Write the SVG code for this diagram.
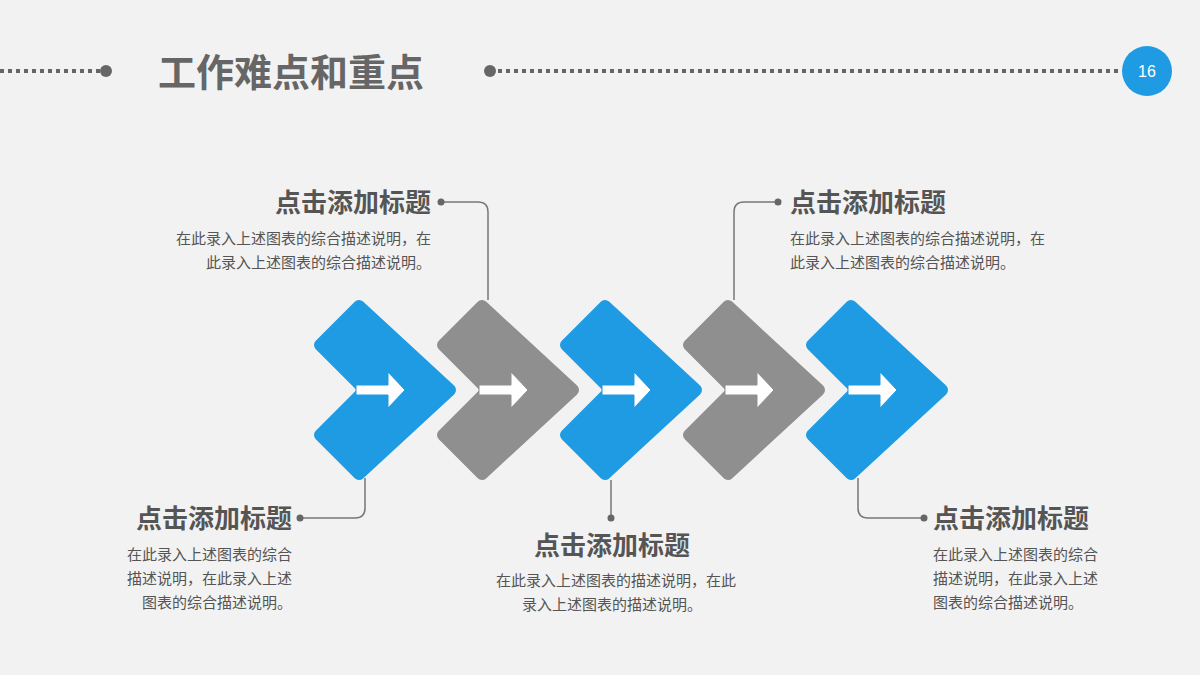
<svg xmlns="http://www.w3.org/2000/svg" width="1200" height="675" viewBox="0 0 1200 675">
<defs>
<style>
.t{font-family:"Noto Sans CJK SC","Liberation Sans",sans-serif;fill:#555;font-weight:bold;font-size:26px}
.d{font-family:"Noto Sans CJK SC","Liberation Sans",sans-serif;fill:#555;font-size:15px}
.dot{stroke:#666;stroke-width:4;stroke-dasharray:4 4;fill:none}
.ln{stroke:#777;stroke-width:1.5;fill:none}
.b{fill:#1f9be3;stroke:#1f9be3}
.g{fill:#8f8f8f;stroke:#8f8f8f}
.ch{stroke-width:12;stroke-linejoin:round}
</style>
<g id="chev"><polygon class="ch" points="6,45 45,6 136,90 45,174 6,135 51,90"/><path d="M42,85H74V72L91,90L74,108V95H42Z" fill="#fff"/></g>
</defs>
<rect width="1200" height="675" fill="#f2f2f2"/>
<g id="header">
<line class="dot" x1="0" y1="71" x2="100" y2="71"/><circle cx="106" cy="71" r="6" fill="#666"/>
<circle cx="490" cy="71" r="6" fill="#666"/><line class="dot" x1="498" y1="71" x2="1122" y2="71"/>
<text x="158" y="86" font-family="Noto Sans CJK SC,sans-serif" font-weight="bold" font-size="38" fill="#666">工作难点和重点</text>
<circle cx="1147" cy="71" r="25" fill="#1f9be3"/>
<text x="1147" y="77" text-anchor="middle" font-family="Liberation Sans,sans-serif" font-size="16" fill="#fff">16</text>
</g>
<g id="connectors">
<path class="ln" d="M488,300V212Q488,202 478,202H441"/><circle cx="441" cy="202" r="3.5" fill="#666"/>
<path class="ln" d="M365,478V508Q365,518 355,518H300"/><circle cx="300" cy="518" r="3.5" fill="#666"/>
<path class="ln" d="M611,480V518"/><circle cx="611" cy="518" r="3.5" fill="#666"/>
<path class="ln" d="M734,300V212Q734,202 744,202H778"/><circle cx="778" cy="202" r="3.5" fill="#666"/>
<path class="ln" d="M858,478V508Q858,518 868,518H924"/><circle cx="924" cy="518" r="3.5" fill="#666"/>
</g>
<g id="n1" class="b"><use href="#chev" x="314" y="300"/></g>
<g id="n2" class="g"><use href="#chev" x="437" y="300"/></g>
<g id="n3" class="b"><use href="#chev" x="560" y="300"/></g>
<g id="n4" class="g"><use href="#chev" x="683" y="300"/></g>
<g id="n5" class="b"><use href="#chev" x="806" y="300"/></g>
<g id="l1"><text class="t" x="431" y="212" text-anchor="end">点击添加标题</text>
<text class="d" x="431" y="244" text-anchor="end">在此录入上述图表的综合描述说明，在</text>
<text class="d" x="431" y="268" text-anchor="end">此录入上述图表的综合描述说明。</text></g>
<g id="l2"><text class="t" x="790" y="212">点击添加标题</text>
<text class="d" x="790" y="244">在此录入上述图表的综合描述说明，在</text>
<text class="d" x="790" y="268">此录入上述图表的综合描述说明。</text></g>
<g id="l3"><text class="t" x="292" y="528" text-anchor="end">点击添加标题</text>
<text class="d" x="292" y="560" text-anchor="end">在此录入上述图表的综合</text>
<text class="d" x="292" y="584" text-anchor="end">描述说明，在此录入上述</text>
<text class="d" x="292" y="608" text-anchor="end">图表的综合描述说明。</text></g>
<g id="l4"><text class="t" x="612" y="555" text-anchor="middle">点击添加标题</text>
<text class="d" x="616" y="586" text-anchor="middle">在此录入上述图表的描述说明，在此</text>
<text class="d" x="612" y="610" text-anchor="middle">录入上述图表的描述说明。</text></g>
<g id="l5"><text class="t" x="933" y="528">点击添加标题</text>
<text class="d" x="933" y="560">在此录入上述图表的综合</text>
<text class="d" x="933" y="584">描述说明，在此录入上述</text>
<text class="d" x="933" y="608">图表的综合描述说明。</text></g>
</svg>
